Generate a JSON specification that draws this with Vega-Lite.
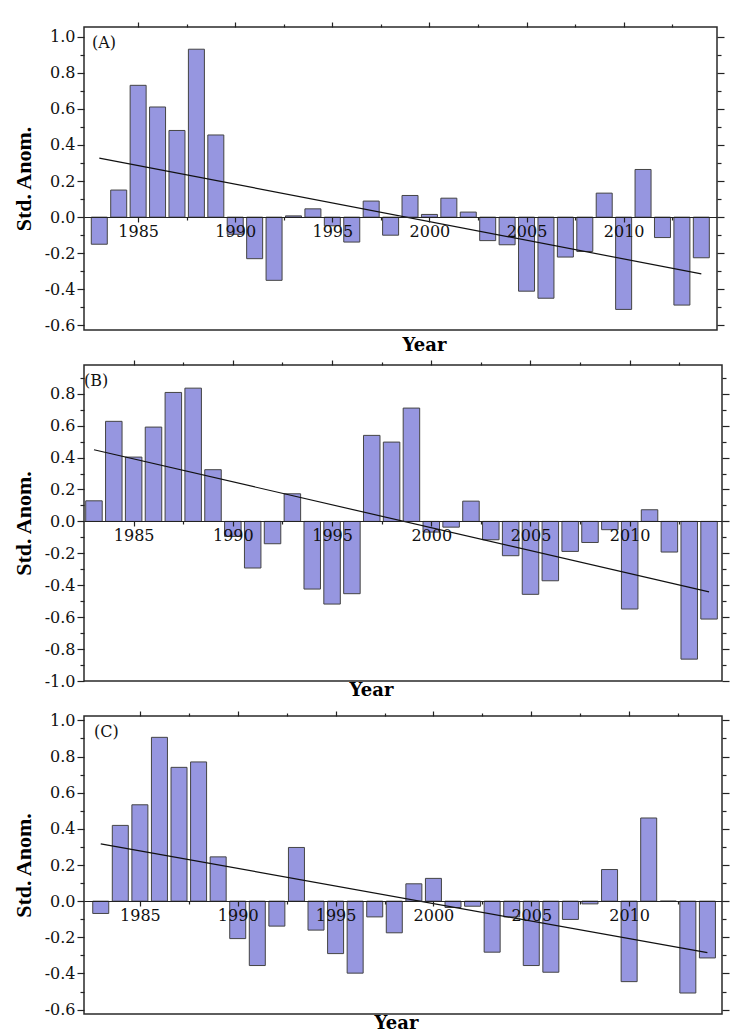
{
  "$schema": "https://vega.github.io/schema/vega-lite/v6.json",
  "background": "white",
  "padding": {"left": 11, "top": 20, "right": 5, "bottom": 0},
  "spacing": 35,
  "bounds": "flush",
  "config": {
    "axis": {"grid": false, "labelFont": "DejaVu Serif", "labelFontSize": 16, "labelColor": "#111", "tickColor": "#222", "domainColor": "#222", "tickWidth": 1.2, "domainWidth": 1.2, "titleFont": "DejaVu Serif", "titleColor": "#000", "titleFontWeight": "bold"},
    "view": {"stroke": "#2a2a2a", "strokeWidth": 1.5},
    "title": {"font": "DejaVu Serif", "fontSize": 16, "fontWeight": "normal", "color": "#111", "anchor": "start", "frame": "group", "baseline": "top"}
  },
  "vconcat": [
    {
      "width": 633, "height": 303,
      "title": {"text": "(A)", "offset": -30, "dx": 8},
      "data": {"values": [
        {"year": 1983, "value": -0.15}, {"year": 1984, "value": 0.15}, {"year": 1985, "value": 0.73}, {"year": 1986, "value": 0.61},
        {"year": 1987, "value": 0.48}, {"year": 1988, "value": 0.93}, {"year": 1989, "value": 0.455}, {"year": 1990, "value": -0.095},
        {"year": 1991, "value": -0.23}, {"year": 1992, "value": -0.35}, {"year": 1993, "value": 0.007}, {"year": 1994, "value": 0.046},
        {"year": 1995, "value": -0.048}, {"year": 1996, "value": -0.138}, {"year": 1997, "value": 0.089}, {"year": 1998, "value": -0.10},
        {"year": 1999, "value": 0.12}, {"year": 2000, "value": 0.015}, {"year": 2001, "value": 0.105}, {"year": 2002, "value": 0.028},
        {"year": 2003, "value": -0.13}, {"year": 2004, "value": -0.153}, {"year": 2005, "value": -0.41}, {"year": 2006, "value": -0.449},
        {"year": 2007, "value": -0.221}, {"year": 2008, "value": -0.19}, {"year": 2009, "value": 0.133}, {"year": 2010, "value": -0.511},
        {"year": 2011, "value": 0.264}, {"year": 2012, "value": -0.113}, {"year": 2013, "value": -0.487}, {"year": 2014, "value": -0.225}
      ]},
      "layer": [
        {
          "mark": {"type": "bar", "orient": "vertical", "size": 16, "fill": "#9696e0", "stroke": "#444", "strokeWidth": 1},
          "encoding": {
            "x": {"field": "year", "type": "quantitative", "scale": {"domain": [1982.47, 2014.55], "nice": false, "zero": false},
              "axis": {"orient": "bottom", "offset": -113, "values": [1985, 1990, 1995, 2000, 2005, 2010], "format": "d", "title": null, "tickSize": 5, "labelPadding": 1, "domain": true, "labelFlush": false, "zindex": 1}},
            "y": {"field": "value", "type": "quantitative", "scale": {"domain": [-0.625, 1.053], "nice": false, "zero": false},
              "axis": {"orient": "left", "values": [-0.6, -0.4, -0.2, 0, 0.2, 0.4, 0.6, 0.8, 1.0], "labelExpr": "replace(format(datum.value, '.1f'), '\u2212', '-')", "tickSize": 7, "domain": false, "title": "Std. Anom.", "titleFont": "Liberation Serif", "titleFontSize": 22, "titlePadding": 9}}
          }
        },
        {
          "data": {"values": [{"year": 1983, "value": 0.327}, {"year": 2014, "value": -0.314}]},
          "mark": {"type": "line", "color": "#111", "strokeWidth": 1.2},
          "encoding": {
            "x": {"field": "year", "type": "quantitative", "scale": {"domain": [1982.47, 2014.55], "nice": false, "zero": false},
              "axis": {"orient": "top", "values": [1985, 1990, 1995, 2000, 2005, 2010], "tickSize": 5, "labels": false, "domain": false, "title": null}},
            "y": {"field": "value", "type": "quantitative", "scale": {"domain": [-0.625, 1.053], "nice": false, "zero": false},
              "axis": {"orient": "left", "values": [-0.5, -0.3, -0.1, 0.1, 0.3, 0.5, 0.7, 0.9], "tickSize": 4, "labels": false, "domain": false, "title": null}}
          }
        },
        {
          "mark": {"type": "point", "opacity": 0},
          "encoding": {
            "x": {"field": "year", "type": "quantitative", "scale": {"domain": [1982.47, 2014.55], "nice": false, "zero": false},
              "axis": {"orient": "top", "values": [1987.5, 1992.5, 1997.5, 2002.5, 2007.5, 2012.5], "tickSize": 3, "labels": false, "domain": false, "title": null}},
            "y": {"field": "value", "type": "quantitative", "scale": {"domain": [-0.625, 1.053], "nice": false, "zero": false},
              "axis": {"orient": "right", "values": [-0.6, -0.4, -0.2, 0, 0.2, 0.4, 0.6, 0.8, 1.0], "tickSize": 7, "labels": false, "domain": false, "title": null}}
          }
        },
        {
          "mark": {"type": "point", "opacity": 0},
          "encoding": {
            "x": {"field": "year", "type": "quantitative", "scale": {"domain": [1982.47, 2014.55], "nice": false, "zero": false},
              "axis": {"orient": "bottom", "ticks": false, "labels": false, "domain": false, "title": "Year", "titleFontSize": 18, "titlePadding": 6, "titleX": 340}},
            "y": {"field": "value", "type": "quantitative", "scale": {"domain": [-0.625, 1.053], "nice": false, "zero": false},
              "axis": {"orient": "right", "values": [-0.5, -0.3, -0.1, 0.1, 0.3, 0.5, 0.7, 0.9], "tickSize": 4, "labels": false, "domain": false, "title": null}}
          }
        },
        {
          "mark": {"type": "point", "opacity": 0},
          "encoding": {
            "x": {"field": "year", "type": "quantitative", "scale": {"domain": [1982.47, 2014.55], "nice": false, "zero": false},
              "axis": {"orient": "bottom", "offset": -113, "values": [1987.5, 1992.5, 1997.5, 2002.5, 2007.5, 2012.5], "tickSize": 3, "labels": false, "domain": false, "title": null}},
            "y": {"field": "value", "type": "quantitative", "scale": {"domain": [-0.625, 1.053], "nice": false, "zero": false}, "axis": null}
          }
        }
      ],
      "resolve": {"axis": {"x": "independent", "y": "independent"}}
    },
    {
      "width": 638, "height": 316,
      "title": {"text": "(B)", "offset": -30, "dx": 0},
      "data": {"values": [
        {"year": 1983, "value": 0.129}, {"year": 1984, "value": 0.627}, {"year": 1985, "value": 0.403}, {"year": 1986, "value": 0.591},
        {"year": 1987, "value": 0.808}, {"year": 1988, "value": 0.835}, {"year": 1989, "value": 0.324}, {"year": 1990, "value": -0.094},
        {"year": 1991, "value": -0.292}, {"year": 1992, "value": -0.14}, {"year": 1993, "value": 0.173}, {"year": 1994, "value": -0.424},
        {"year": 1995, "value": -0.518}, {"year": 1996, "value": -0.453}, {"year": 1997, "value": 0.539}, {"year": 1998, "value": 0.497},
        {"year": 1999, "value": 0.71}, {"year": 2000, "value": -0.067}, {"year": 2001, "value": -0.036}, {"year": 2002, "value": 0.127},
        {"year": 2003, "value": -0.115}, {"year": 2004, "value": -0.215}, {"year": 2005, "value": -0.457}, {"year": 2006, "value": -0.372},
        {"year": 2007, "value": -0.188}, {"year": 2008, "value": -0.132}, {"year": 2009, "value": -0.052}, {"year": 2010, "value": -0.549},
        {"year": 2011, "value": 0.073}, {"year": 2012, "value": -0.192}, {"year": 2013, "value": -0.863}, {"year": 2014, "value": -0.612}
      ]},
      "layer": [
        {
          "mark": {"type": "bar", "orient": "vertical", "size": 16.5, "fill": "#9696e0", "stroke": "#444", "strokeWidth": 1},
          "encoding": {
            "x": {"field": "year", "type": "quantitative", "scale": {"domain": [1982.75, 2014.4], "nice": false, "zero": false},
              "axis": {"orient": "bottom", "offset": -160, "values": [1985, 1990, 1995, 2000, 2005, 2010], "format": "d", "title": null, "tickSize": 5, "labelPadding": 1, "domain": true, "labelFlush": false, "zindex": 1}},
            "y": {"field": "value", "type": "quantitative", "scale": {"domain": [-1.0, 0.98], "nice": false, "zero": false},
              "axis": {"orient": "left", "values": [-1.0, -0.8, -0.6, -0.4, -0.2, 0, 0.2, 0.4, 0.6, 0.8], "labelExpr": "replace(format(datum.value, '.1f'), '\u2212', '-')", "tickSize": 7, "domain": false, "title": "Std. Anom.", "titleFont": "Liberation Serif", "titleFontSize": 22, "titlePadding": 9}}
          }
        },
        {
          "data": {"values": [{"year": 1983, "value": 0.449}, {"year": 2014, "value": -0.442}]},
          "mark": {"type": "line", "color": "#111", "strokeWidth": 1.2},
          "encoding": {
            "x": {"field": "year", "type": "quantitative", "scale": {"domain": [1982.75, 2014.4], "nice": false, "zero": false},
              "axis": {"orient": "top", "values": [1985, 1990, 1995, 2000, 2005, 2010], "tickSize": 5, "labels": false, "domain": false, "title": null}},
            "y": {"field": "value", "type": "quantitative", "scale": {"domain": [-1.0, 0.98], "nice": false, "zero": false},
              "axis": {"orient": "left", "values": [-0.9, -0.7, -0.5, -0.3, -0.1, 0.1, 0.3, 0.5, 0.7, 0.9], "tickSize": 4, "labels": false, "domain": false, "title": null}}
          }
        },
        {
          "mark": {"type": "point", "opacity": 0},
          "encoding": {
            "x": {"field": "year", "type": "quantitative", "scale": {"domain": [1982.75, 2014.4], "nice": false, "zero": false},
              "axis": {"orient": "top", "values": [1987.5, 1992.5, 1997.5, 2002.5, 2007.5, 2012.5], "tickSize": 3, "labels": false, "domain": false, "title": null}},
            "y": {"field": "value", "type": "quantitative", "scale": {"domain": [-1.0, 0.98], "nice": false, "zero": false},
              "axis": {"orient": "right", "values": [-1.0, -0.8, -0.6, -0.4, -0.2, 0, 0.2, 0.4, 0.6, 0.8], "tickSize": 7, "labels": false, "domain": false, "title": null}}
          }
        },
        {
          "mark": {"type": "point", "opacity": 0},
          "encoding": {
            "x": {"field": "year", "type": "quantitative", "scale": {"domain": [1982.75, 2014.4], "nice": false, "zero": false},
              "axis": {"orient": "bottom", "ticks": false, "labels": false, "domain": false, "title": "Year", "titleFontSize": 18, "titlePadding": 0, "titleX": 287}},
            "y": {"field": "value", "type": "quantitative", "scale": {"domain": [-1.0, 0.98], "nice": false, "zero": false},
              "axis": {"orient": "right", "values": [-0.9, -0.7, -0.5, -0.3, -0.1, 0.1, 0.3, 0.5, 0.7, 0.9], "tickSize": 4, "labels": false, "domain": false, "title": null}}
          }
        },
        {
          "mark": {"type": "point", "opacity": 0},
          "encoding": {
            "x": {"field": "year", "type": "quantitative", "scale": {"domain": [1982.75, 2014.4], "nice": false, "zero": false},
              "axis": {"orient": "bottom", "offset": -160, "values": [1987.5, 1992.5, 1997.5, 2002.5, 2007.5, 2012.5], "tickSize": 3, "labels": false, "domain": false, "title": null}},
            "y": {"field": "value", "type": "quantitative", "scale": {"domain": [-1.0, 0.98], "nice": false, "zero": false}, "axis": null}
          }
        }
      ],
      "resolve": {"axis": {"x": "independent", "y": "independent"}}
    },
    {
      "width": 638, "height": 298,
      "title": {"text": "(C)", "offset": -30, "dx": 10},
      "data": {"values": [
        {"year": 1983, "value": -0.068}, {"year": 1984, "value": 0.419}, {"year": 1985, "value": 0.533}, {"year": 1986, "value": 0.906},
        {"year": 1987, "value": 0.74}, {"year": 1988, "value": 0.77}, {"year": 1989, "value": 0.245}, {"year": 1990, "value": -0.207},
        {"year": 1991, "value": -0.356}, {"year": 1992, "value": -0.138}, {"year": 1993, "value": 0.297}, {"year": 1994, "value": -0.16},
        {"year": 1995, "value": -0.29}, {"year": 1996, "value": -0.398}, {"year": 1997, "value": -0.087}, {"year": 1998, "value": -0.175},
        {"year": 1999, "value": 0.096}, {"year": 2000, "value": 0.126}, {"year": 2001, "value": -0.035}, {"year": 2002, "value": -0.028},
        {"year": 2003, "value": -0.282}, {"year": 2004, "value": -0.087}, {"year": 2005, "value": -0.356}, {"year": 2006, "value": -0.393},
        {"year": 2007, "value": -0.101}, {"year": 2008, "value": -0.015}, {"year": 2009, "value": 0.175}, {"year": 2010, "value": -0.445},
        {"year": 2011, "value": 0.46}, {"year": 2012, "value": 0.0}, {"year": 2013, "value": -0.508}, {"year": 2014, "value": -0.314}
      ]},
      "layer": [
        {
          "mark": {"type": "bar", "orient": "vertical", "size": 16, "fill": "#9696e0", "stroke": "#444", "strokeWidth": 1},
          "encoding": {
            "x": {"field": "year", "type": "quantitative", "scale": {"domain": [1982.4, 2014.49], "nice": false, "zero": false},
              "axis": {"orient": "bottom", "offset": -113, "values": [1985, 1990, 1995, 2000, 2005, 2010], "format": "d", "title": null, "tickSize": 5, "labelPadding": 1, "domain": true, "labelFlush": false, "zindex": 1}},
            "y": {"field": "value", "type": "quantitative", "scale": {"domain": [-0.624, 1.024], "nice": false, "zero": false},
              "axis": {"orient": "left", "values": [-0.6, -0.4, -0.2, 0, 0.2, 0.4, 0.6, 0.8, 1.0], "labelExpr": "replace(format(datum.value, '.1f'), '\u2212', '-')", "tickSize": 7, "domain": false, "title": "Std. Anom.", "titleFont": "Liberation Serif", "titleFontSize": 22, "titlePadding": 9}}
          }
        },
        {
          "data": {"values": [{"year": 1983, "value": 0.317}, {"year": 2014, "value": -0.285}]},
          "mark": {"type": "line", "color": "#111", "strokeWidth": 1.2},
          "encoding": {
            "x": {"field": "year", "type": "quantitative", "scale": {"domain": [1982.4, 2014.49], "nice": false, "zero": false},
              "axis": {"orient": "top", "values": [1985, 1990, 1995, 2000, 2005, 2010], "tickSize": 5, "labels": false, "domain": false, "title": null}},
            "y": {"field": "value", "type": "quantitative", "scale": {"domain": [-0.624, 1.024], "nice": false, "zero": false},
              "axis": {"orient": "left", "values": [-0.5, -0.3, -0.1, 0.1, 0.3, 0.5, 0.7, 0.9], "tickSize": 4, "labels": false, "domain": false, "title": null}}
          }
        },
        {
          "mark": {"type": "point", "opacity": 0},
          "encoding": {
            "x": {"field": "year", "type": "quantitative", "scale": {"domain": [1982.4, 2014.49], "nice": false, "zero": false},
              "axis": {"orient": "top", "values": [1987.5, 1992.5, 1997.5, 2002.5, 2007.5, 2012.5], "tickSize": 3, "labels": false, "domain": false, "title": null}},
            "y": {"field": "value", "type": "quantitative", "scale": {"domain": [-0.624, 1.024], "nice": false, "zero": false},
              "axis": {"orient": "right", "values": [-0.6, -0.4, -0.2, 0, 0.2, 0.4, 0.6, 0.8, 1.0], "tickSize": 7, "labels": false, "domain": false, "title": null}}
          }
        },
        {
          "mark": {"type": "point", "opacity": 0},
          "encoding": {
            "x": {"field": "year", "type": "quantitative", "scale": {"domain": [1982.4, 2014.49], "nice": false, "zero": false},
              "axis": {"orient": "bottom", "ticks": false, "labels": false, "domain": false, "title": "Year", "titleFontSize": 18, "titlePadding": 0, "titleX": 312}},
            "y": {"field": "value", "type": "quantitative", "scale": {"domain": [-0.624, 1.024], "nice": false, "zero": false},
              "axis": {"orient": "right", "values": [-0.5, -0.3, -0.1, 0.1, 0.3, 0.5, 0.7, 0.9], "tickSize": 4, "labels": false, "domain": false, "title": null}}
          }
        },
        {
          "mark": {"type": "point", "opacity": 0},
          "encoding": {
            "x": {"field": "year", "type": "quantitative", "scale": {"domain": [1982.4, 2014.49], "nice": false, "zero": false},
              "axis": {"orient": "bottom", "offset": -113, "values": [1987.5, 1992.5, 1997.5, 2002.5, 2007.5, 2012.5], "tickSize": 3, "labels": false, "domain": false, "title": null}},
            "y": {"field": "value", "type": "quantitative", "scale": {"domain": [-0.624, 1.024], "nice": false, "zero": false}, "axis": null}
          }
        }
      ],
      "resolve": {"axis": {"x": "independent", "y": "independent"}}
    }
  ]
}
